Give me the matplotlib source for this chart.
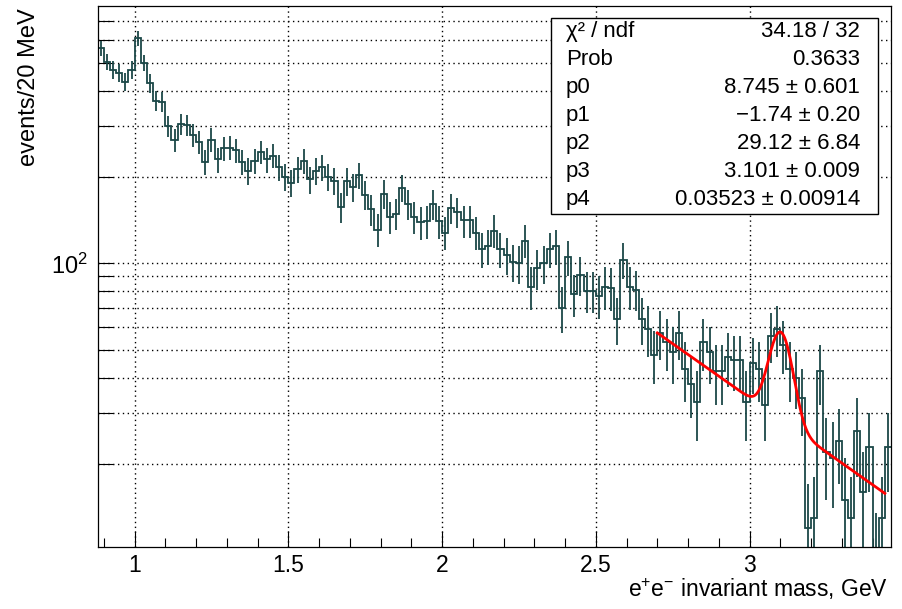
import numpy as np
import matplotlib.pyplot as plt
from matplotlib.patches import Rectangle
from matplotlib.ticker import FixedLocator, MultipleLocator, NullFormatter

plt.rcParams["font.family"] = "Liberation Sans"
plt.rcParams["mathtext.fontset"] = "custom"
plt.rcParams["mathtext.rm"] = "Liberation Sans"
plt.rcParams["mathtext.it"] = "Liberation Sans:italic"

# 20 MeV bins starting at 0.88 GeV
x_lo = 0.88
bin_w = 0.02
counts = [561, 504, 472, 461, 429, 472, 608, 500, 424, 369,
          366, 301, 269, 306, 303, 280, 265, 226, 270, 230,
          252, 253, 248, 226, 210, 228, 244, 230, 237, 216,
          200, 191, 213, 228, 196, 210, 216, 200, 194, 157,
          193, 184, 203, 173, 154, 131, 175, 145, 149, 183,
          161, 145, 139, 140, 161, 140, 128, 156, 151, 141,
          141, 128, 112, 115, 130, 112, 107, 101, 100, 120,
          83, 96, 100, 112, 115, 70, 105, 78, 91, 80,
          80, 77, 83, 82, 64, 103, 83, 81, 64, 59,
          48, 57, 53, 49, 57, 43, 38, 33, 53, 49,
          42, 42, 47, 46, 46, 33, 45, 43, 32, 56,
          59, 52, 43, 40, 34, 12, 13, 42, 22, 21,
          24, 15, 13, 26, 16, 23, 9, 13, 23]
errors = [35, 34, 33, 32, 31, 33, 37, 34, 31, 29,
          29, 26, 25, 26, 26, 25, 24, 23, 25, 23,
          24, 24, 24, 23, 22, 23, 23, 23, 23, 22,
          21, 21, 22, 23, 21, 22, 22, 21, 21, 19,
          21, 20, 21, 20, 19, 17, 20, 18, 18, 20,
          19, 18, 18, 18, 19, 18, 17, 19, 18, 18,
          18, 17, 16, 16, 17, 16, 16, 15, 15, 16,
          14, 15, 15, 16, 16, 13, 15, 13, 14, 13,
          13, 13, 14, 14, 12, 15, 14, 13, 12, 12,
          10, 11, 11, 11, 11, 10, 9, 9, 11, 11,
          10, 10, 10, 10, 10, 9, 10, 10, 8, 11,
          12, 11, 10, 9, 9, 5, 5, 10, 7, 7,
          7, 6, 5, 8, 6, 7, 4.5, 5, 7]

# expo + gaus fit
fit_lo, fit_hi = 2.70, 3.44
p0, p1, p2, p3, p4 = 8.745, -1.74, 29.12, 3.101, 0.03523

stat_names = ["χ² / ndf", "Prob", "p0", "p1", "p2", "p3", "p4"]
stat_values = ["34.18 / 32", "0.3633", "8.745 ± 0.601", "−1.74 ± 0.20",
               "29.12 ± 6.84", "3.101 ± 0.009", "0.03523 ± 0.00914"]

x_ticks = [1, 1.5, 2, 2.5, 3]
x_labels = ["1", "1.5", "2", "2.5", "3"]

W, H = 903, 609
fig = plt.figure(figsize=(W / 100, H / 100), dpi=100)
ax = fig.add_axes([97.7 / W, 1 - 547 / H, (891 - 97.7) / W, (547 - 6) / H])

edges = x_lo + bin_w * np.arange(len(counts) + 1)
centers = edges[:-1] + bin_w / 2
col = "#1b4848"
ax.stairs(counts, edges, color=col, lw=1.3, baseline=None)
ax.errorbar(centers, counts, yerr=errors, fmt="none", ecolor=col,
            elinewidth=1.3, capsize=0)

xf = np.linspace(fit_lo, fit_hi, 400)
yf = np.exp(p0 + p1 * xf) + p2 * np.exp(-0.5 * ((xf - p3) / p4) ** 2)
ax.plot(xf, yf, color="red", lw=2)

ax.set_yscale("log")
ax.set_xlim(edges[0], edges[-1])
ax.set_ylim(10.27, 788)

ax.xaxis.set_major_locator(FixedLocator(x_ticks))
ax.set_xticklabels(x_labels)
ax.xaxis.set_minor_locator(MultipleLocator(0.1))
ax.yaxis.set_major_locator(FixedLocator([100]))
ax.set_yticklabels(["$10^{2}$"])
ax.yaxis.set_minor_locator(FixedLocator([20, 30, 40, 50, 60, 70, 80, 90,
                                         200, 300, 400, 500, 600, 700]))
ax.yaxis.set_minor_formatter(NullFormatter())

ax.tick_params(axis="x", which="major", direction="in", length=11.5,
               width=0.8, labelsize=16.5, pad=5, top=False)
ax.tick_params(axis="x", which="minor", direction="in", length=6.5,
               width=0.8, top=False)
ax.tick_params(axis="y", which="both", direction="in", length=10.5,
               width=0.8, right=False)
ax.tick_params(axis="y", which="major", labelsize=17, pad=7)

ax.grid(True, which="major", axis="x", color="black", lw=1.0,
        linestyle=(0, (1, 2.5)))
ax.grid(True, which="both", axis="y", color="black", lw=1.0,
        linestyle=(0, (1, 2.5)))
ax.set_axisbelow(True)
for s in ax.spines.values():
    s.set_linewidth(0.9)

fig.text(29 / W, 1 - 8 / H, "events/20 MeV", rotation=90, ha="center",
         va="top", fontsize=17)
fig.text(888 / W, 1 - 597 / H, "e$^{+}$e$^{-}$ invariant mass, GeV",
         ha="right", va="baseline", fontsize=16.5)

# stats box
bx0, by0, bx1, by1 = 551, 18, 878, 214
fig.patches.append(Rectangle((bx0 / W, 1 - by1 / H), (bx1 - bx0) / W,
                             (by1 - by0) / H, transform=fig.transFigure,
                             facecolor="white", edgecolor="black", lw=1.0,
                             zorder=5))
for i, (name, val) in enumerate(zip(stat_names, stat_values)):
    yy = 1 - (31.7 + 27.9 * i) / H
    fig.text(566 / W, yy, name, ha="left", va="center", fontsize=16,
             zorder=6)
    fig.text(860 / W, yy, val, ha="right", va="center", fontsize=16,
             zorder=6)

fig.savefig("out.png", dpi=100)
